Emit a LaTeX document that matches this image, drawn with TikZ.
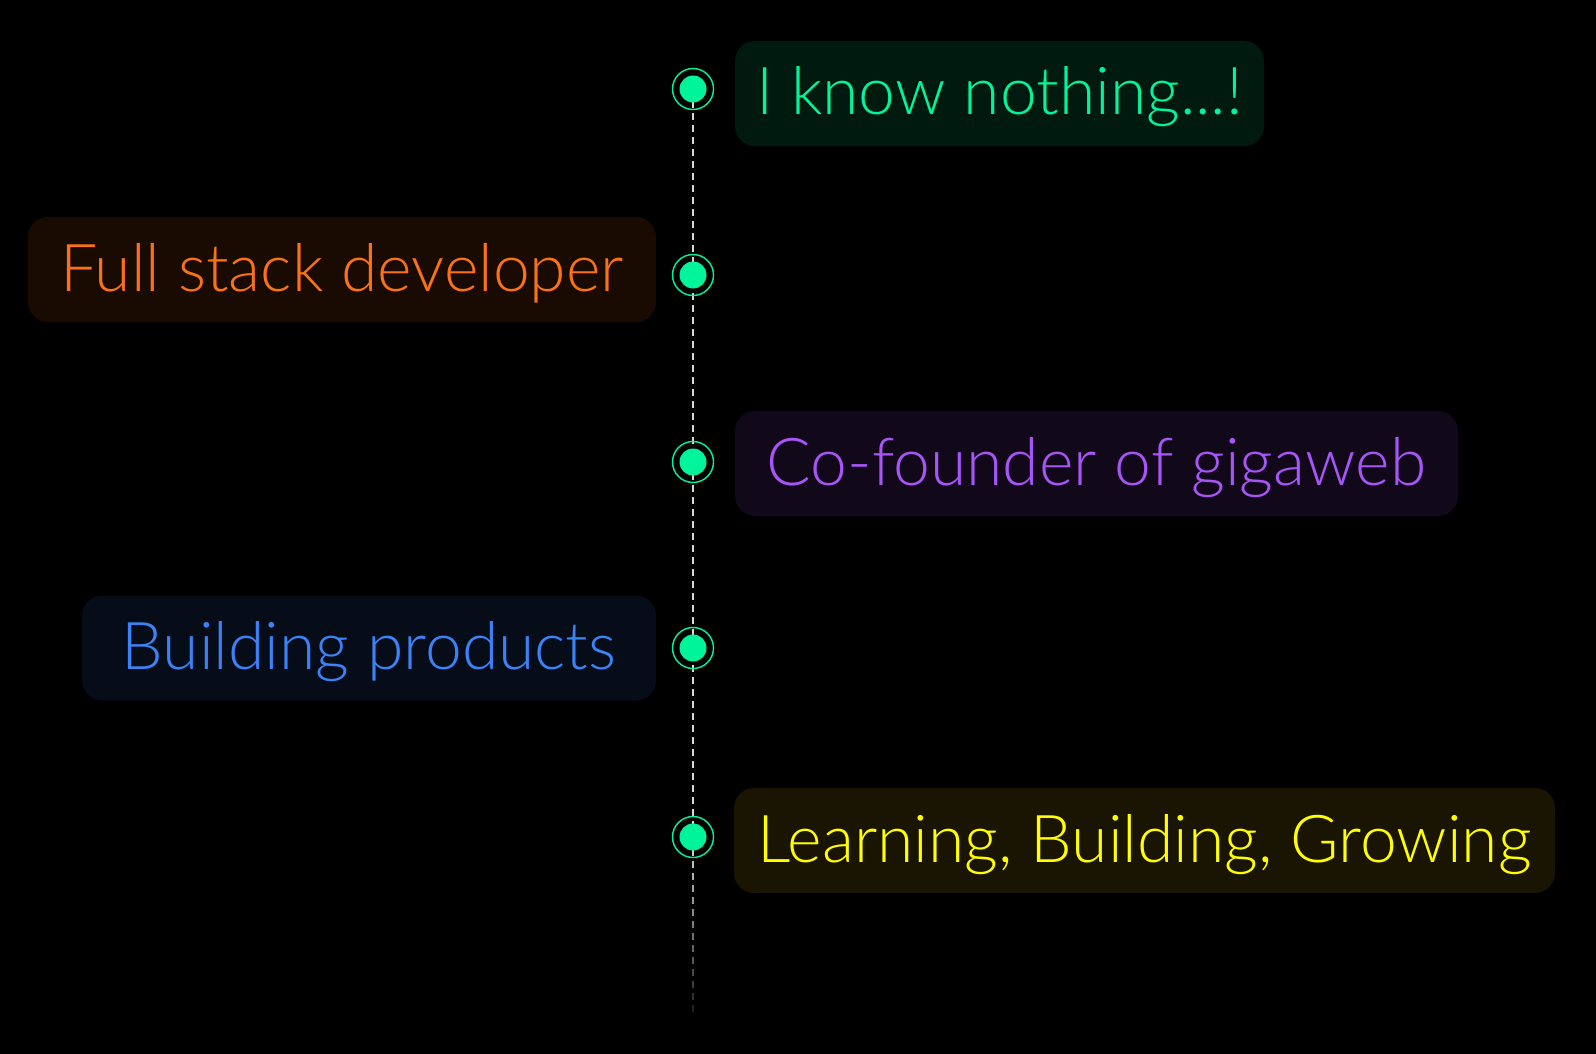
\documentclass[tikz,border=0pt]{standalone}
\usepackage{fontspec}
\setmainfont{Lato Light}
\usetikzlibrary{calc}
\definecolor{dotgreen}{HTML}{00F59B}
\definecolor{dashgray}{HTML}{D8D8D8}
\definecolor{tgreen}{HTML}{00F59B}\definecolor{fgreen}{HTML}{011A10}
\definecolor{torange}{HTML}{F97316}\definecolor{forange}{HTML}{1A0B02}
\definecolor{tpurple}{HTML}{A855F7}\definecolor{fpurple}{HTML}{110919}
\definecolor{tblue}{HTML}{3B82F6}\definecolor{fblue}{HTML}{060C18}
\definecolor{tyellow}{HTML}{FFFF00}\definecolor{fyellow}{HTML}{1A1503}
\tikzset{
  tbox/.style={rectangle, rounded corners=20pt, inner sep=0pt, minimum height=105pt,
    text height=43pt, text depth=0pt, font=\fontsize{66}{74}\selectfont},
  ring/.style={circle, draw=dotgreen, line width=1.4pt, minimum size=41pt, inner sep=0pt},
  dotc/.style={circle, fill=dotgreen, minimum size=27pt, inner sep=0pt},
  dashline/.style={draw=dashgray, line width=2pt, dash pattern=on 7pt off 5pt}
}
\begin{document}
\begin{tikzpicture}[x=1pt,y=-1pt]
\useasboundingbox (0,0) rectangle (1596,1054);
\fill[black] (0,0) rectangle (1596,1054);

% boxes
\node[tbox, fill=fgreen, text=tgreen, minimum width=529pt] (b1) at (999.5,93.5) {I know nothing...!};
\node[tbox, fill=forange, text=torange, minimum width=628pt] (b2) at (342,269.5) {Full stack developer};
\node[tbox, fill=fpurple, text=tpurple, minimum width=723pt] (b3) at (1096.5,463.5) {Co-founder of gigaweb};
\node[tbox, fill=fblue, text=tblue, minimum width=574pt] (b4) at (369,648) {Building products};
\node[tbox, fill=fyellow, text=tyellow, minimum width=821pt] (b5) at (1144.5,840.5) {Learning, Building, Growing};

% dot positions
\coordinate (p1) at (693,89);
\coordinate (p2) at (693,275);
\coordinate (p3) at (693,462);
\coordinate (p4) at (693,648);
\coordinate (p5) at (693,837);

% dashed timeline
\draw[dashline] (p1) -- (p5);
\foreach \i in {0,...,14}{
  \pgfmathsetmacro{\op}{max(0.12,1-0.06*\i)}
  \draw[draw=dashgray, draw opacity=\op, line width=2pt]
    ($(p5)+(0,12*\i)$) -- ($(p5)+(0,12*\i+7)$);
}

% dots
\foreach \k in {1,...,5}{
  \node[ring] (r\k) at (p\k) {};
  \node[dotc] (d\k) at (p\k) {};
}
\end{tikzpicture}
\end{document}
